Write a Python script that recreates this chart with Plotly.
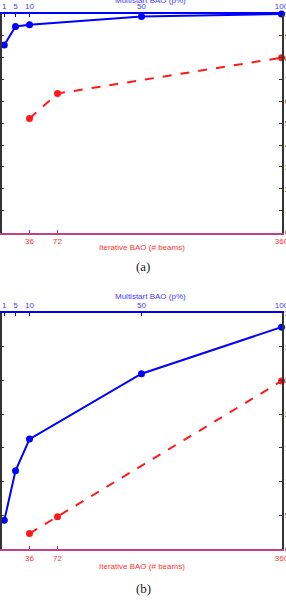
import plotly.graph_objects as go

# ---- data ----
multistart_p = [1, 5, 10, 50, 100]
iterative_beams = [36, 72, 360]
a_multistart = [85.8, 94.3, 95.1, 98.8, 100]
a_iterative = [52.2, 63.6, 80.0]
b_multistart = [4.25, 11.6, 16.3, 26.0, 32.9]
b_iterative = [2.3, 4.8, 24.9]
top_ticks = [1, 5, 10, 50, 100]
bottom_ticks = [36, 72, 360]
a_yticks = list(range(0, 101, 10))
b_yticks = list(range(0, 36, 5))

W, H = 286, 603
BLUE = "#0000ff"
RED = "#ff1a1a"
BLUE_TXT = "#4040ff"
RED_TXT = "#ff3333"

def py(px):
    return 1 - px / H

def pxx(px):
    return px / W

fig = go.Figure()

# panel (a)
fig.add_trace(go.Scatter(x=iterative_beams, y=a_iterative, xaxis="x", yaxis="y",
                         mode="lines+markers", line=dict(color=RED, width=2, dash="dash"),
                         marker=dict(color=RED, size=7), showlegend=False, cliponaxis=False))
fig.add_trace(go.Scatter(x=multistart_p, y=a_multistart, xaxis="x2", yaxis="y",
                         mode="lines+markers", line=dict(color=BLUE, width=2),
                         marker=dict(color=BLUE, size=7), showlegend=False, cliponaxis=False))
# panel (b)
fig.add_trace(go.Scatter(x=iterative_beams, y=b_iterative, xaxis="x3", yaxis="y2",
                         mode="lines+markers", line=dict(color=RED, width=2, dash="dash"),
                         marker=dict(color=RED, size=7), showlegend=False, cliponaxis=False))
fig.add_trace(go.Scatter(x=multistart_p, y=b_multistart, xaxis="x4", yaxis="y2",
                         mode="lines+markers", line=dict(color=BLUE, width=2),
                         marker=dict(color=BLUE, size=7), showlegend=False, cliponaxis=False))

xdom = [pxx(1.5), pxx(281.5)]
font = dict(family="Liberation Sans, Arial, sans-serif", size=8)

def bottom_axis(anchor):
    return dict(domain=xdom, range=[0, 360], anchor=anchor, side="bottom",
                tickvals=bottom_ticks, ticks="inside", ticklen=3, tickcolor=RED,
                tickfont=dict(color=RED_TXT, size=8), showgrid=False, zeroline=False,
                showline=True, linecolor="#c0408a", linewidth=2, automargin=False,
                ticklabeloverflow="allow")

def top_axis(anchor, over):
    return dict(domain=xdom, range=[0, 100], anchor=anchor, overlaying=over, side="top",
                tickvals=top_ticks, ticks="inside", ticklen=3, tickcolor=BLUE,
                tickfont=dict(color=BLUE_TXT, size=8), showgrid=False, zeroline=False,
                showline=True, linecolor=BLUE, linewidth=2, automargin=False,
                ticklabeloverflow="allow")

def y_axis(dom, rng, tv):
    return dict(domain=dom, range=rng, side="right", tickvals=tv, ticks="inside",
                ticklen=3, tickcolor="#333", tickfont=dict(color="#444", size=8),
                showgrid=False, zeroline=False, showline=True, linecolor="#333",
                linewidth=1.5, mirror="ticks", automargin=False,
                ticklabeloverflow="allow")

fig.update_layout(
    width=W, height=H, margin=dict(l=0, r=0, t=0, b=0, autoexpand=False),
    paper_bgcolor="white", plot_bgcolor="white", font=font,
    xaxis=bottom_axis("y"),
    xaxis2=top_axis("y", "x"),
    yaxis=y_axis([py(232.5), py(14)], [0, 100], a_yticks),
    xaxis3=bottom_axis("y2"),
    xaxis4=top_axis("y2", "x3"),
    yaxis2=y_axis([py(549), py(313)], [0, 35], b_yticks),
)

ann = []
def txt(x, y, s, color, size=8, fam="Liberation Sans, Arial, sans-serif"):
    ann.append(dict(x=pxx(x), y=py(y), xref="paper", yref="paper", text=s,
                    showarrow=False, xanchor="center", yanchor="middle",
                    font=dict(color=color, size=size, family=fam)))

txt(150, 0.5, "Multistart BAO (p%)", BLUE_TXT)
txt(142, 247, "Iterative BAO (# beams)", RED_TXT)
txt(143, 266, "(a)", "#222", 13, "Liberation Serif, serif")
txt(150, 296, "Multistart BAO (p%)", BLUE_TXT)
txt(142, 566, "Iterative BAO (# beams)", RED_TXT)
txt(143, 588, "(b)", "#222", 13, "Liberation Serif, serif")
fig.update_layout(annotations=ann)

fig.write_html("out.html")
